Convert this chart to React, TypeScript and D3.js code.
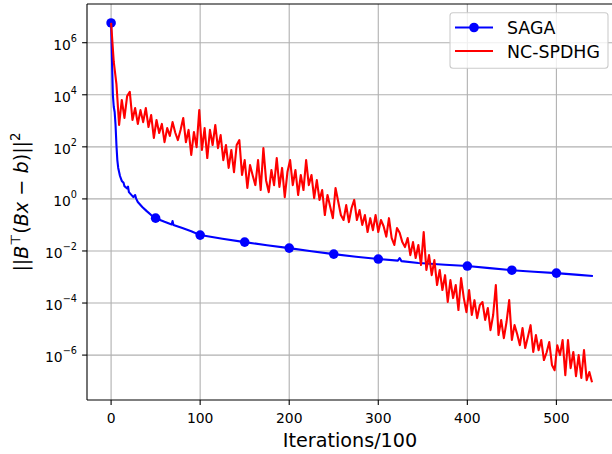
import React from 'react';
import * as d3 from 'd3';

// SAGA: iteration/100 and log10 of the residual
const sagaX = [0, 1, 2, 3, 4, 5, 6, 7, 8, 10, 12, 14, 15, 18, 19, 20, 25, 27, 28, 30, 35, 40, 45, 50,
  60, 68, 69, 70, 80, 90, 100, 125, 150, 175, 200, 225, 250, 275, 300, 322, 324, 326, 345, 350,
  375, 400, 425, 450, 475, 500, 525, 541];
const sagaLog = [6.76, 5.33, 3.99, 3.53, 3.34, 2.84, 2.07, 1.49, 1.19, 0.88, 0.69, 0.62, 0.49, 0.4, 0.47, 0.26,
  0.07, 0.15, 0.02, -0.12, -0.31, -0.47, -0.62, -0.74, -0.88, -0.98, -0.85, -1.0, -1.12, -1.24, -1.39,
  -1.53, -1.66, -1.78, -1.89, -2.01, -2.12, -2.22, -2.31, -2.37, -2.27, -2.39, -2.46, -2.47, -2.53,
  -2.58, -2.66, -2.74, -2.8, -2.85, -2.92, -2.96];
const sagaMarkerX = [0, 50, 100, 150, 200, 250, 300, 400, 450, 500];

// NC-SPDHG: log10 of the residual, one reading every 3 (iterations/100)
const ncStep = 3;
const ncLog = [
  6.76, 5.26, 4.41, 2.84, 3.8, 3.11, 3.95, 4.11, 3.03, 3.49,
  2.88, 3.41, 2.95, 3.49, 2.76, 3.22, 2.34, 3.03, 2.53, 2.88,
  2.18, 2.72, 2.42, 2.95, 2.55, 2.26, 2.65, 3.11, 2.18, 2.65,
  1.69, 2.57, 1.99, 3.41, 1.88, 2.72, 1.57, 2.65, 2.07, 2.84,
  1.95, 2.45, 1.49, 2.07, 1.19, 1.88, 1.03, 2.07, 2.26, 0.92,
  1.49, 0.42, 1.3, 0.9, 0.53, 1.49, 0.34, 1.95, 0.72, 0.26,
  1.11, 0.53, 1.57, 0.46, 1.19, 0.07, 1.03, 1.49, 0.53, 1.11,
  0.15, 0.92, 0.34, 1.49, 0.53, 0.92, 0.03, 0.72, -0.04, 0.34,
  -0.62, 0.15, -0.3, -0.74, 0.42, -0.1, -0.62, -0.81, -0.24, -0.89,
  -0.35, -0.04, -0.81, -0.43, -1.0, -0.62, -1.27, -0.74, -1.2, -0.62,
  -1.27, -0.81, -1.05, -1.45, -0.74, -1.5, -1.77, -1.12, -1.3, -1.66,
  -1.85, -1.5, -2.16, -1.66, -2.27, -1.77, -2.54, -1.27, -2.73, -2.16,
  -2.93, -2.35, -3.31, -2.73, -3.5, -2.93, -3.96, -3.12, -3.81, -3.31,
  -4.27, -3.04, -3.8, -4.35, -3.5, -4.46, -3.89, -4.58, -4.08, -3.96,
  -4.65, -4.19, -5.04, -4.46, -3.31, -5.23, -4.65, -5.35, -4.73, -3.89,
  -5.42, -4.85, -5.2, -5.62, -4.96, -5.73, -5.3, -4.85, -5.88, -5.23,
  -5.81, -5.42, -6.19, -5.9, -5.5, -6.38, -6.58, -5.62, -6.0, -5.42,
  -6.77, -5.42, -6.5, -5.88, -6.81, -6.0, -6.88, -5.81, -6.96, -6.65,
  -7.04,
];

const xTicks = [0, 100, 200, 300, 400, 500];
const yTickExps = [6, 4, 2, 0, -2, -4, -6];

const W = 612;
const H = 454;
const left = 87;
const right = 617;
const top = 4;
const bottom = 400;
const font = 'DejaVu Sans, sans-serif';

const App = () => {
  const x = d3.scaleLinear().domain([-27.05, 568.05]).range([left, right]);
  const y = d3.scaleLog().domain([Math.pow(10, -7.725), Math.pow(10, 7.487)]).range([bottom, top]);

  const saga = sagaX.map((v, i) => ({ x: v, y: Math.pow(10, sagaLog[i]) }));
  const nc = ncLog.map((v, i) => ({ x: i * ncStep, y: Math.pow(10, v) }));
  const markers = sagaMarkerX.map(m => saga.find(d => d.x === m)!);

  const line = d3.line<{ x: number; y: number }>().x(d => x(d.x)).y(d => y(d.y));

  return (
    <div style={{ position: 'absolute', left: 0, top: 0 }}>
      <svg width={W} height={H} style={{ display: 'block', background: '#fff' }} fontFamily={font}>
        <defs>
          <clipPath id="plot">
            <rect x={left} y={top} width={right - left} height={bottom - top} />
          </clipPath>
        </defs>

        {/* grid */}
        {xTicks.map(t => (
          <line key={'gx' + t} x1={x(t)} x2={x(t)} y1={top} y2={bottom} stroke="#b0b0b0" strokeWidth={1.1} />
        ))}
        {yTickExps.map(e => (
          <line key={'gy' + e} x1={left} x2={right} y1={y(Math.pow(10, e))} y2={y(Math.pow(10, e))} stroke="#b0b0b0" strokeWidth={1.1} />
        ))}

        <g clipPath="url(#plot)">
          <path d={line(saga)!} fill="none" stroke="#0000ff" strokeWidth={2.1} strokeLinejoin="round" />
          {markers.map(d => (
            <circle key={'m' + d.x} cx={x(d.x)} cy={y(d.y)} r={4.8} fill="#0000ff" />
          ))}
          <path d={line(nc)!} fill="none" stroke="#ff0000" strokeWidth={2.1} strokeLinejoin="round" />
        </g>

        {/* spines */}
        <line x1={left} x2={left} y1={top} y2={bottom} stroke="#000" strokeWidth={1.1} />
        <line x1={left} x2={right} y1={bottom} y2={bottom} stroke="#000" strokeWidth={1.1} />
        <line x1={left} x2={right} y1={top} y2={top} stroke="#000" strokeWidth={1.1} />

        {/* x ticks */}
        {xTicks.map(t => (
          <g key={'xt' + t}>
            <line x1={x(t)} x2={x(t)} y1={bottom} y2={bottom + 4.9} stroke="#000" strokeWidth={1.1} />
            <text x={x(t)} y={423} textAnchor="middle" fontSize={13.9} fill="#000">{t}</text>
          </g>
        ))}

        {/* y ticks */}
        {yTickExps.map(e => {
          const yy = y(Math.pow(10, e));
          return (
            <g key={'yt' + e}>
              <line x1={left - 4.9} x2={left} y1={yy} y2={yy} stroke="#000" strokeWidth={1.1} />
              <text x={77} y={yy + 7.3} textAnchor="end" fontSize={13.9} fill="#000">
                <tspan>10</tspan>
                <tspan dy={-8.3} fontSize={9.7}>{e < 0 ? '\u2212' + Math.abs(e) : String(e)}</tspan>
              </text>
            </g>
          );
        })}

        {/* axis labels */}
        <text x={(left + right) / 2 - 2} y={446.5} textAnchor="middle" fontSize={19.2} fill="#000">Iterations/100</text>
        <text transform={`translate(28,202) rotate(-90)`} textAnchor="middle" fontSize={19.2} fill="#000">
          <tspan>||</tspan>
          <tspan fontStyle="italic">B</tspan>
          <tspan dy={-8} fontSize={13.4}>{'\u22a4'}</tspan>
          <tspan dy={8}>(</tspan>
          <tspan fontStyle="italic">Bx</tspan>
          <tspan>{' \u2212 '}</tspan>
          <tspan fontStyle="italic">b</tspan>
          <tspan>)||</tspan>
          <tspan dy={-8} fontSize={13.4}>2</tspan>
        </text>

        {/* legend */}
        <rect x={450} y={12.7} width={158} height={55.5} rx={3} fill="#fff" fillOpacity={0.8} stroke="#cccccc" strokeWidth={1.1} />
        <line x1={455} x2={493} y1={27.5} y2={27.5} stroke="#0000ff" strokeWidth={2.1} />
        <circle cx={474} cy={27.5} r={4.8} fill="#0000ff" />
        <text x={507} y={34.3} fontSize={17.4} fill="#000">SAGA</text>
        <line x1={455} x2={493} y1={51} y2={51} stroke="#ff0000" strokeWidth={2.1} />
        <text x={507} y={57.7} fontSize={17.4} fill="#000">NC-SPDHG</text>
      </svg>
    </div>
  );
};

export default App;
